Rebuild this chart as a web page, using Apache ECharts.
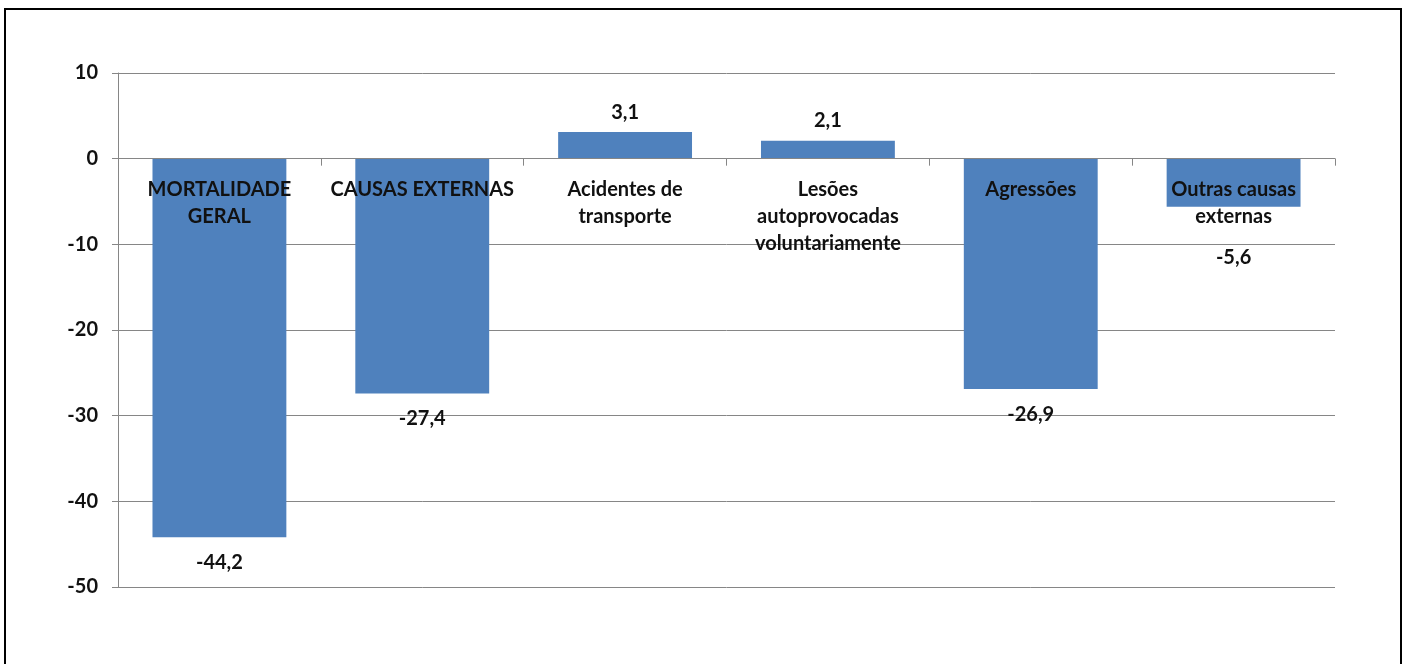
<!DOCTYPE html>
<html>
<head>
<meta charset="utf-8">
<script src="https://cdn.jsdelivr.net/npm/echarts@6/dist/echarts.min.js"></script>
<style>
html,body{margin:0;padding:0;background:#fff;}
#chart{width:1408px;height:664px;}
</style>
</head>
<body>
<div id="chart"></div>
<script>
const categories = [
  'MORTALIDADE\nGERAL',
  'CAUSAS EXTERNAS',
  'Acidentes de\ntransporte',
  'Lesões\nautoprovocadas\nvoluntariamente',
  'Agressões',
  'Outras causas\nexternas'
];
const values = [-44.2, -27.4, 3.1, 2.1, -26.9, -5.6];
const yTicks = { min: -50, max: 10, interval: 10 };

const FONT = 'Lato';
const TEXT = '#111';
const W = 1408, H = 664;
const GRID = { left: 118, right: 73, top: 73, bottom: 77 };
const plotH = H - GRID.top - GRID.bottom;
// move the category axis up to the zero line
const zeroOffset = -plotH * (0 - yTicks.min) / (yTicks.max - yTicks.min);

const chart = echarts.init(document.getElementById('chart'));
const data = values.map((v, i) => {
  const item = { value: v };
  if (i === 5) item.label = { distance: 41 };
  else if (v > 0) item.label = { distance: 10 };
  return item;
});
chart.setOption({
  animation: false,
  backgroundColor: '#fff',
  graphic: [{
    type: 'rect',
    shape: { x: 5, y: 9, width: 1396, height: 720 },
    style: { fill: 'none', stroke: '#000', lineWidth: 2 },
    silent: true
  }],
  grid: Object.assign({ containLabel: false, outerBoundsMode: 'none' }, GRID),
  xAxis: {
    type: 'category',
    data: categories,
    position: 'bottom',
    offset: zeroOffset,
    z: 10,
    axisLine: { onZero: false, lineStyle: { color: '#868686', width: 1 } },
    axisTick: { show: true, length: 7, lineStyle: { color: '#868686' } },
    axisLabel: {
      interval: 0,
      margin: 17,
      fontFamily: FONT,
      fontWeight: 'bold',
      fontSize: 20,
      lineHeight: 27,
      color: TEXT
    }
  },
  yAxis: {
    type: 'value',
    min: yTicks.min, max: yTicks.max, interval: yTicks.interval,
    axisLine: { show: true, lineStyle: { color: '#868686' } },
    axisTick: { show: true, length: 6, lineStyle: { color: '#868686' } },
    splitLine: { lineStyle: { color: '#868686', width: 1 } },
    axisLabel: {
      margin: 20,
      fontFamily: FONT,
      fontWeight: 'bold',
      fontSize: 20,
      color: TEXT
    }
  },
  series: [{
    type: 'bar',
    data: data,
    barWidth: '66%',
    itemStyle: { color: '#4F81BD' },
    label: {
      show: true,
      position: 'outside',
      distance: 15,
      fontFamily: FONT,
      fontWeight: 'bold',
      fontSize: 20,
      color: TEXT,
      formatter: p => p.value.toFixed(1).replace('.', ',')
    }
  }]
});
</script>
</body>
</html>
